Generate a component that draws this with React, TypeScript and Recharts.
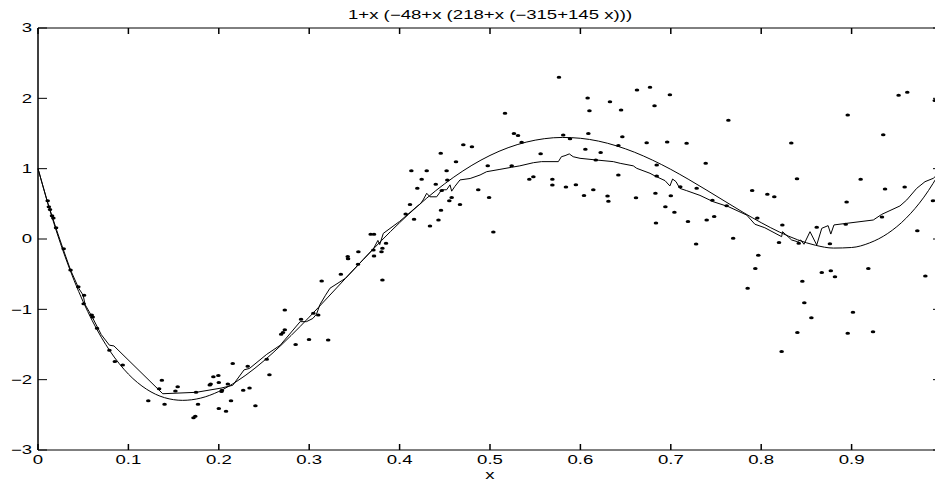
import React from 'react';
import { ComposedChart, Line, Scatter, XAxis, YAxis } from 'recharts';

const TITLE = '1+x (\u221248+x (218+x (\u2212315+145 x)))';
const X_LABEL = 'x';

const xTicks = [0, 0.1, 0.2, 0.3, 0.4, 0.5, 0.6, 0.7, 0.8, 0.9, 1];
const yTicks = [-3, -2, -1, 0, 1, 2, 3];

// smooth polynomial curve
const smoothX = [0, 0.02, 0.04, 0.06, 0.08, 0.1, 0.12, 0.14, 0.16, 0.18, 0.2, 0.22, 0.24, 0.26, 0.28, 0.3, 0.32, 0.34, 0.36, 0.38, 0.4, 0.42, 0.44, 0.46, 0.48, 0.5, 0.52, 0.54, 0.56, 0.58, 0.6, 0.62, 0.64, 0.66, 0.68, 0.7, 0.72, 0.74, 0.76, 0.78, 0.8, 0.82, 0.84, 0.86, 0.88, 0.9, 0.92, 0.94, 0.96, 0.98, 1];
const smoothY = [1, 0.125, -0.591, -1.161, -1.6, -1.921, -2.135, -2.256, -2.294, -2.262, -2.168, -2.023, -1.837, -1.617, -1.372, -1.111, -0.838, -0.562, -0.288, -0.022, 0.232, 0.469, 0.687, 0.88, 1.048, 1.188, 1.298, 1.377, 1.426, 1.444, 1.432, 1.392, 1.324, 1.233, 1.12, 0.99, 0.845, 0.692, 0.535, 0.379, 0.232, 0.1, -0.01, -0.089, -0.129, -0.121, -0.055, 0.079, 0.292, 0.595, 1];

// jagged estimate line
const jagX = [0, 0.011, 0.016, 0.02, 0.028, 0.036, 0.045, 0.05, 0.052, 0.06, 0.07, 0.079, 0.084, 0.138, 0.175, 0.2025, 0.2154, 0.228, 0.234, 0.253, 0.268, 0.29, 0.297, 0.304, 0.308, 0.312, 0.318, 0.323, 0.34, 0.36, 0.371, 0.376, 0.378, 0.382, 0.4, 0.419, 0.423, 0.426, 0.43, 0.4336, 0.441, 0.4466, 0.452, 0.4558, 0.4576, 0.461, 0.4668, 0.478, 0.489, 0.4963, 0.511, 0.524, 0.533, 0.548, 0.557, 0.5756, 0.579, 0.583, 0.5877, 0.592, 0.5996, 0.618, 0.6364, 0.644, 0.6585, 0.6623, 0.677, 0.6825, 0.6936, 0.699, 0.702, 0.7058, 0.71, 0.7176, 0.7323, 0.747, 0.7637, 0.784, 0.793, 0.804, 0.8226, 0.8236, 0.8337, 0.84, 0.8437, 0.8473, 0.854, 0.8614, 0.867, 0.874, 0.877, 0.8805, 0.8945, 0.924, 0.9333, 0.9535, 0.961, 0.972, 0.9812, 0.9904, 1];
const jagY = [1, 0.5, 0.31, 0.15, -0.15, -0.44, -0.7, -0.8, -0.93, -1.11, -1.36, -1.51, -1.52, -2.2, -2.18, -2.12, -2.08, -1.86, -1.84, -1.64, -1.51, -1.175, -1.175, -1.13, -1.07, -0.93, -0.8, -0.7, -0.56, -0.29, -0.14, -0.02, -0.08, 0.08, 0.25, 0.46, 0.5, 0.555, 0.65, 0.6, 0.6, 0.7, 0.7, 0.77, 0.68, 0.745, 0.84, 0.86, 0.91, 0.957, 0.99, 1.02, 1.04, 1.085, 1.1, 1.1, 1.17, 1.185, 1.21, 1.17, 1.147, 1.123, 1.1, 1.076, 1.04, 1.005, 0.934, 0.896, 0.83, 0.754, 0.853, 0.815, 0.72, 0.687, 0.62, 0.53, 0.46, 0.34, 0.21, 0.16, 0.033, 0.104, -0.014, -0.038, -0.014, -0.075, 0.104, -0.085, 0.152, 0.19, 0.07, 0.2, 0.223, 0.27, 0.35, 0.47, 0.555, 0.72, 0.815, 0.863, 0.98];

// noisy samples
const dotX = [0.0107, 0.012, 0.0133, 0.0155, 0.017, 0.02, 0.0284, 0.036, 0.0446, 0.051, 0.0505, 0.0594, 0.0605, 0.0653, 0.079, 0.085, 0.0937, 0.122, 0.134, 0.137, 0.14, 0.152, 0.1545, 0.172, 0.174, 0.1748, 0.177, 0.19, 0.191, 0.194, 0.1995, 0.2, 0.2, 0.203, 0.2035, 0.208, 0.21, 0.2135, 0.2154, 0.227, 0.232, 0.234, 0.2405, 0.253, 0.256, 0.269, 0.271, 0.273, 0.273, 0.285, 0.291, 0.2998, 0.3046, 0.31, 0.3138, 0.321, 0.335, 0.3426, 0.343, 0.3544, 0.354, 0.368, 0.3717, 0.371, 0.3717, 0.381, 0.38, 0.385, 0.381, 0.4067, 0.4115, 0.413, 0.416, 0.4196, 0.4244, 0.43, 0.4336, 0.44, 0.443, 0.4455, 0.4458, 0.4466, 0.452, 0.4528, 0.455, 0.4576, 0.4624, 0.4668, 0.4705, 0.48, 0.487, 0.4975, 0.499, 0.5037, 0.5166, 0.5265, 0.531, 0.535, 0.524, 0.5435, 0.548, 0.556, 0.569, 0.569, 0.5763, 0.581, 0.584, 0.5885, 0.595, 0.604, 0.6055, 0.608, 0.6088, 0.61, 0.6143, 0.617, 0.6224, 0.63, 0.631, 0.6327, 0.642, 0.642, 0.645, 0.6464, 0.6615, 0.6626, 0.6733, 0.677, 0.682, 0.683, 0.6836, 0.6844, 0.6844, 0.694, 0.696, 0.699, 0.7, 0.704, 0.7105, 0.7175, 0.719, 0.728, 0.7286, 0.7386, 0.7397, 0.746, 0.748, 0.7618, 0.7637, 0.769, 0.785, 0.79, 0.7935, 0.7957, 0.7968, 0.8068, 0.8145, 0.8197, 0.8226, 0.8234, 0.8333, 0.8396, 0.84, 0.8415, 0.8455, 0.8477, 0.8555, 0.8614, 0.867, 0.876, 0.877, 0.8816, 0.8935, 0.8945, 0.8957, 0.8957, 0.9015, 0.91, 0.9185, 0.9237, 0.9336, 0.935, 0.937, 0.952, 0.9587, 0.9616, 0.9727, 0.9816, 0.99, 0.992, 0.996];
const dotY = [0.545, 0.46, 0.42, 0.33, 0.3, 0.16, -0.14, -0.44, -0.68, -0.8, -0.92, -1.08, -1.11, -1.27, -1.58, -1.74, -1.79, -2.3, -2.13, -2.01, -2.35, -2.16, -2.1, -2.54, -2.52, -2.18, -2.35, -2.076, -2.06, -1.96, -1.94, -2.04, -2.41, -2.17, -2.15, -2.45, -2.06, -2.3, -1.77, -2.15, -1.81, -2.12, -2.37, -1.71, -1.93, -1.355, -1.33, -1.29, -1.01, -1.5, -1.14, -1.43, -1.057, -1.08, -0.597, -1.436, -0.5, -0.25, -0.28, -0.18, -0.36, 0.067, 0.067, -0.156, -0.242, -0.133, -0.18, -0.06, -0.583, 0.355, 0.49, 0.97, 0.28, 0.72, 0.85, 0.97, 0.185, 0.78, 0.27, 1.22, 0.41, 0.69, 0.97, 0.84, 0.545, 0.59, 1.1, 0.49, 1.34, 1.31, 0.7, 1.04, 0.59, 0.1, 1.787, 1.5, 1.47, 1.375, 1.04, 0.85, 0.886, 1.213, 0.85, 0.768, 2.3, 1.48, 0.74, 1.426, 0.77, 0.62, 1.275, 2.005, 1.5, 1.825, 0.7, 1.123, 1.23, 0.61, 0.535, 1.95, 1.33, 0.91, 1.834, 1.455, 0.587, 2.12, 1.37, 2.157, 1.895, 0.65, 0.227, 1.052, 0.896, 0.46, 1.38, 2.05, 0.616, 0.38, 0.744, 1.36, 0.25, -0.07, 0.72, 1.076, 0.27, 0.55, 0.32, 0.474, 1.69, 0.01, -0.7, 0.69, -0.42, 0.3, -0.23, 0.635, 0.6, -0.05, -1.6, 0.2, 1.365, 0.857, -1.33, -0.06, -0.6, -0.905, -1.12, 0.166, -0.475, -0.066, -0.45, -0.535, 0.21, 0.526, 1.763, -1.34, -1.04, 0.85, -0.42, -1.32, 0.313, 1.483, 0.71, 2.043, 0.74, 2.085, 0.118, -0.525, 0.545, 1.97, -0.23];

const smoothData = smoothX.map((x, i) => ({ x, y: smoothY[i] }));
const jagData = jagX.map((x, i) => ({ x, y: jagY[i] }));
const dotData = dotX.map((x, i) => ({ x, y: dotY[i] }));

const FONT = '"Liberation Sans", Arial, Helvetica, sans-serif';
const STRETCH = 1.55;
const INK = '#000';

const BottomTick = (props: any) => {
  const { x, y, payload } = props;
  return (
    <g>
      <line x1={x} y1={y} x2={x} y2={y - 6} stroke={INK} strokeWidth={1.5} />
      <g transform={`translate(${x},${y + 13.5}) scale(${STRETCH},1)`}>
        <text x={0} y={0} textAnchor="middle" fontSize={12} fontFamily={FONT} fill={INK}>
          {String(payload.value)}
        </text>
      </g>
    </g>
  );
};

const TopTick = (props: any) => {
  const { x, y } = props;
  return <line x1={x} y1={y} x2={x} y2={y + 6} stroke={INK} strokeWidth={1.5} />;
};

const LeftTick = (props: any) => {
  const { x, y, payload } = props;
  return (
    <g>
      <line x1={x} y1={y} x2={x + 9} y2={y} stroke={INK} strokeWidth={1} />
      <g transform={`translate(${x - 6},${y}) scale(${STRETCH},1)`}>
        <text x={0} y={0} dy="0.36em" textAnchor="end" fontSize={12} fontFamily={FONT} fill={INK}>
          {String(payload.value).replace('-', '\u2212')}
        </text>
      </g>
    </g>
  );
};

const RightTick = (props: any) => {
  const { x, y } = props;
  return <line x1={x} y1={y} x2={x - 9} y2={y} stroke={INK} strokeWidth={1} />;
};

const TitleLabel = (props: any) => {
  const vb = props.viewBox || { x: 30, y: 19, width: 904, height: 1 };
  const cx = vb.x + vb.width / 2;
  return (
    <g transform={`translate(${cx},${vb.y - 8.5}) scale(${STRETCH},1)`}>
      <text x={0} y={0} textAnchor="middle" fontSize={12} fontFamily={FONT} fill={INK}>
        {TITLE}
      </text>
    </g>
  );
};

const XLabel = (props: any) => {
  const vb = props.viewBox || { x: 30, y: 442, width: 904, height: 33 };
  const cx = vb.x + vb.width / 2;
  return (
    <g transform={`translate(${cx},${vb.y + 28.5}) scale(${STRETCH},1)`}>
      <text x={0} y={0} textAnchor="middle" fontSize={12} fontFamily={FONT} fill={INK}>
        {X_LABEL}
      </text>
    </g>
  );
};

const Dot = (props: any) => {
  const { cx, cy } = props;
  if (cx == null || cy == null) return <g />;
  return <ellipse cx={cx} cy={cy} rx={2.3} ry={1.5} fill={INK} />;
};

export default function App() {
  return (
    <div>
      <ComposedChart width={935} height={475} margin={{ top: 19, right: 0, bottom: 0, left: 0 }}>
        <XAxis xAxisId={0} type="number" dataKey="x" domain={[0, 1]} ticks={xTicks} interval={0} height={33} tickSize={0} tickMargin={0} tickLine={false} tick={<BottomTick />} axisLine={{ stroke: INK }} label={<XLabel />} />
        <XAxis xAxisId="top" orientation="top" type="number" dataKey="x" domain={[0, 1]} ticks={xTicks} interval={0} height={1} tickSize={0} tickMargin={0} tickLine={false} tick={<TopTick />} axisLine={{ stroke: INK }} label={<TitleLabel />} />
        <YAxis yAxisId={0} type="number" domain={[-3, 3]} ticks={yTicks} interval={0} width={30} tickSize={0} tickMargin={0} tickLine={false} tick={<LeftTick />} axisLine={{ stroke: INK, strokeWidth: 1.5 }} />
        <YAxis yAxisId="right" orientation="right" type="number" domain={[-3, 3]} ticks={yTicks} interval={0} width={1} tickSize={0} tickMargin={0} tickLine={false} tick={<RightTick />} axisLine={{ stroke: INK, strokeWidth: 1.5 }} />
        <Scatter data={dotData} dataKey="y" shape={<Dot />} isAnimationActive={false} />
        <Line data={smoothData} dataKey="y" xAxisId="top" yAxisId="right" type="monotone" dot={false} activeDot={false} stroke={INK} strokeWidth={1} isAnimationActive={false} />
        <Line data={jagData} dataKey="y" type="linear" dot={false} activeDot={false} stroke={INK} strokeWidth={1} isAnimationActive={false} />
      </ComposedChart>
    </div>
  );
}
